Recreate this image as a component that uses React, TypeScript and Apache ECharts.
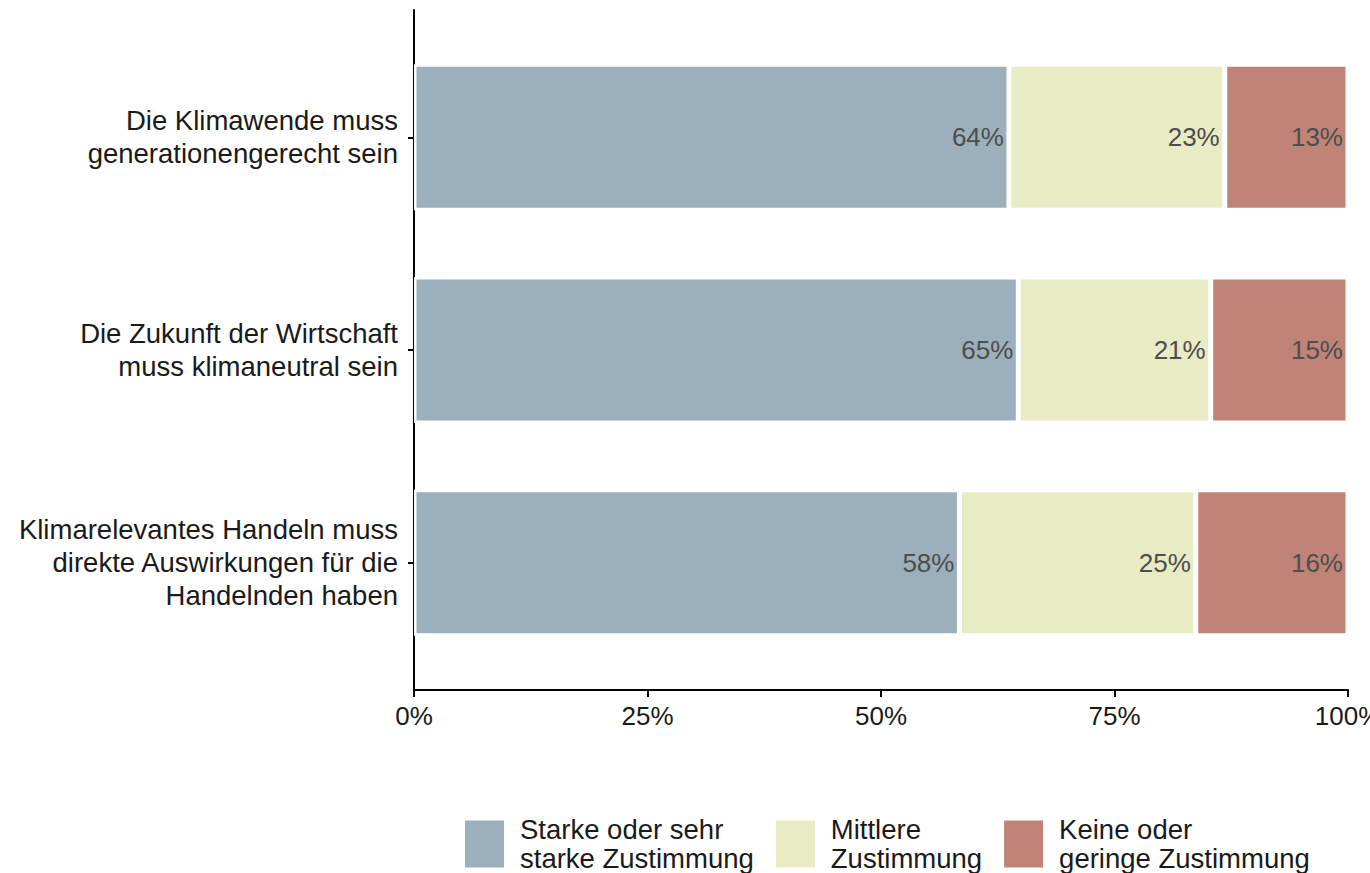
import React, { useEffect, useRef } from "react";
import * as echarts from "echarts";

const categories = [
  "Die Klimawende muss\ngenerationengerecht sein",
  "Die Zukunft der Wirtschaft\nmuss klimaneutral sein",
  "Klimarelevantes Handeln muss\ndirekte Auswirkungen für die\nHandelnden haben",
];
const seriesNames = [
  "Starke oder sehr starke Zustimmung",
  "Mittlere Zustimmung",
  "Keine oder geringe Zustimmung",
];
const legendLabels = [
  "Starke oder sehr\nstarke Zustimmung",
  "Mittlere\nZustimmung",
  "Keine oder\ngeringe Zustimmung",
];
const strong = [63.7, 64.7, 58.4];
const medium = [23.1, 20.6, 25.3];
const low = [13.2, 14.7, 16.3];
const xTicks = [0, 25, 50, 75, 100];
const colors = ["#9bb0bc", "#e8ebc4", "#c08378"];

export default function App() {
  const ref = useRef<HTMLDivElement>(null);
  useEffect(() => {
    if (!ref.current) return;
    const chart = echarts.init(ref.current, null, { renderer: "svg" });
    const values = [strong, medium, low];
    const font = "'Liberation Sans', Arial, sans-serif";
    chart.setOption({
      animation: false,
      textStyle: { fontFamily: font },
      grid: [
        { left: 414, right: 22, top: 10, bottom: 183, outerBoundsMode: "none", containLabel: false },
        { left: 414, right: 22, top: 31, bottom: 204, outerBoundsMode: "none", containLabel: false },
      ],
      xAxis: [
        {
          gridIndex: 0,
          type: "value",
          min: xTicks[0],
          max: xTicks[xTicks.length - 1],
          interval: 25,
          axisLine: { show: true, lineStyle: { color: "#000", width: 2 } },
          axisTick: { show: true, length: 7, lineStyle: { color: "#000", width: 2 } },
          axisLabel: { fontSize: 26, color: "#1a1a1a", margin: 13, formatter: "{value}%", fontFamily: font },
          splitLine: { show: false },
        },
        {
          gridIndex: 1,
          type: "value",
          min: 0,
          max: 100,
          show: false,
        },
      ],
      yAxis: [
        {
          gridIndex: 0,
          type: "value",
          min: 0,
          max: 1,
          axisLine: { show: true, lineStyle: { color: "#000", width: 2 } },
          axisTick: { show: false },
          axisLabel: { show: false },
          splitLine: { show: false },
        },
        {
          gridIndex: 1,
          type: "category",
          inverse: true,
          data: categories,
          axisLine: { show: false },
          axisTick: { show: true, alignWithLabel: true, length: 6, lineStyle: { color: "#000", width: 2 } },
          axisLabel: { fontSize: 27.5, color: "#1a1a1a", margin: 16, lineHeight: 33, align: "right", fontFamily: font },
        },
      ],
      legend: {
        left: 463,
        top: 815,
        padding: 0,
        itemWidth: 41,
        itemHeight: 49,
        itemGap: 20,
        icon: "rect",
        data: seriesNames,
        formatter: (name: string) => legendLabels[seriesNames.indexOf(name)],
        textStyle: { fontSize: 27.5, lineHeight: 29, color: "#1a1a1a", padding: [0, 0, 0, 10], fontFamily: font },
      },
      series: seriesNames.map((name, i) => ({
        name,
        type: "bar",
        stack: "total",
        xAxisIndex: 1,
        yAxisIndex: 1,
        barWidth: 146,
        data: values[i],
        itemStyle: { color: colors[i], borderColor: "#ffffff", borderWidth: 2.5 },
        label: {
          show: true,
          position: "insideRight",
          distance: 5,
          fontSize: 26,
          color: "#4d4d4d",
          fontFamily: font,
          formatter: (p: any) => Math.round(p.value) + "%",
        },
      })),
    });
    return () => chart.dispose();
  }, []);
  return (
    <div
      ref={ref}
      style={{ position: "absolute", left: 0, top: 0, width: 1370, height: 873, background: "#fff" }}
    />
  );
}
